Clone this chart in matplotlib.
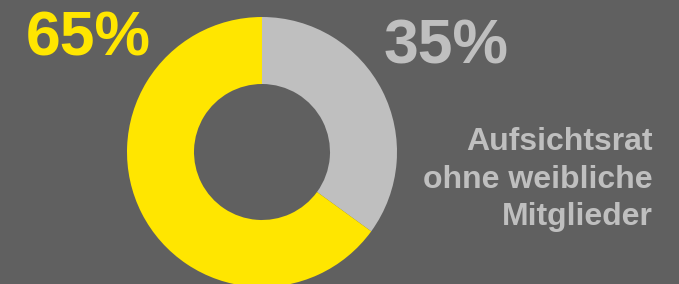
import matplotlib.pyplot as plt

labels = ["Aufsichtsrat ohne weibliche Mitglieder", "Aufsichtsrat mit weiblichen Mitgliedern"]
shares = [35, 65]
share_labels = ["35%", "65%"]
caption_lines = ["Aufsichtsrat", "ohne weibliche", "Mitglieder"]
colors = ["#bfbfbf", "#ffe600"]

bg = "#606060"
plt.rcParams["font.family"] = ["Liberation Sans", "DejaVu Sans"]

fig = plt.figure(figsize=(6.79, 2.84), dpi=100, facecolor=bg)
ax = fig.add_axes([0, 0, 1, 1])
ax.set_facecolor(bg)

# pixel coordinates, y pointing up
ax.pie(
    shares,
    colors=colors,
    startangle=90,
    counterclock=False,
    center=(262, 132),
    radius=135,
    wedgeprops=dict(width=67, linewidth=0),
    frame=True,
)
ax.set_xlim(0, 679)
ax.set_ylim(0, 284)
ax.set_aspect("equal")
ax.axis("off")

ax.text(26, 228, share_labels[1], color=colors[1], fontsize=45,
        fontweight="bold", ha="left", va="baseline")
ax.text(384, 221, share_labels[0], color=colors[0], fontsize=45,
        fontweight="bold", ha="left", va="baseline")

for i, line in enumerate(caption_lines):
    ax.text(653, 134 - i * 37.5, line, color=colors[0], fontsize=23,
            fontweight="bold", ha="right", va="baseline")

fig.savefig("out.png", dpi=100, facecolor=bg)
